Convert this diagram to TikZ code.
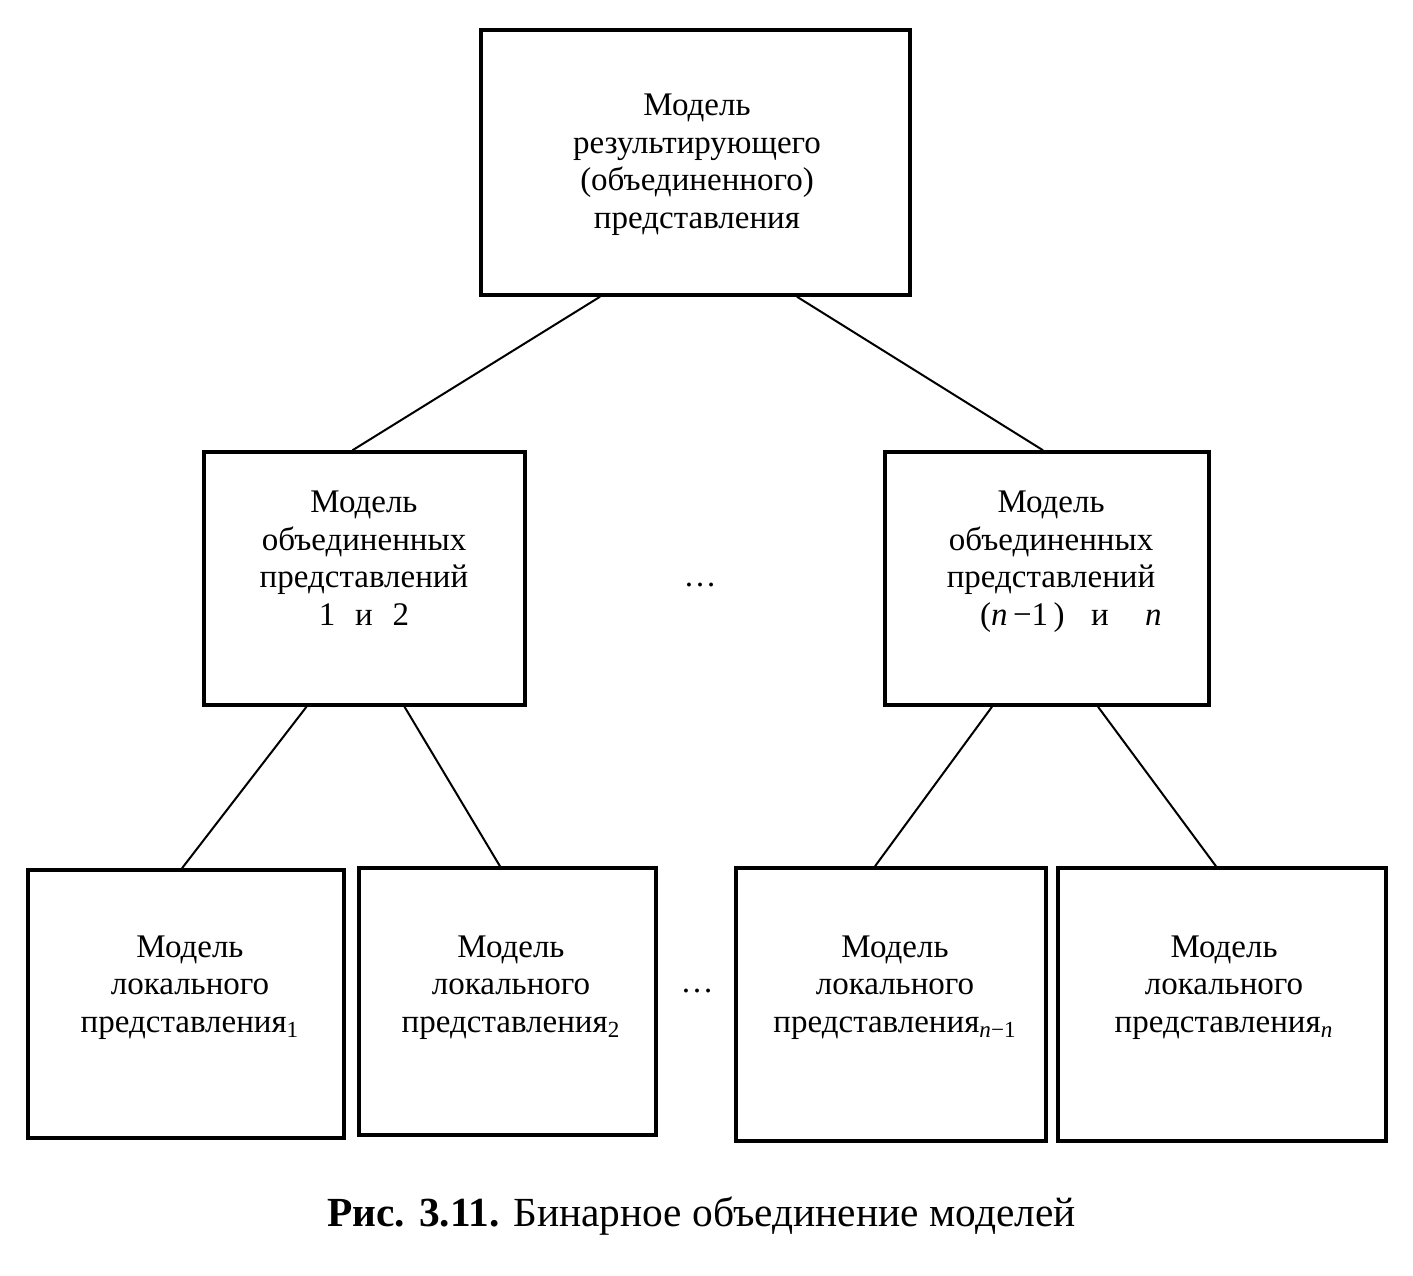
\documentclass[tikz,border=0pt]{standalone}
\usepackage{fontspec}
\setmainfont{Liberation Serif}
\usetikzlibrary{calc}
\begin{document}
\begin{tikzpicture}[x=0.5pt,y=-0.5pt,
  boxn/.style={draw, line width=1.75pt, inner sep=0pt},
  txt/.style={align=center, inner sep=0pt, anchor=base, font=\fontsize{16.5}{18.75}\selectfont},
  conn/.style={line width=1pt},
  capt/.style={anchor=base, inner sep=0pt, font=\fontsize{20.7}{24}\selectfont}]
\useasboundingbox (0,0) rectangle (1413,1275);
% boxes
\node[boxn, minimum width=214.5pt, minimum height=132.5pt] (top) at (695.5,162.5) {};
\node[boxn, minimum width=160.5pt, minimum height=126.5pt] (midL) at (364.5,578.5) {};
\node[boxn, minimum width=162pt, minimum height=126.5pt] (midR) at (1047,578.5) {};
\node[boxn, minimum width=158pt, minimum height=134pt] (b1) at (186,1004) {};
\node[boxn, minimum width=148.5pt, minimum height=133.5pt] (b2) at (507.5,1001.5) {};
\node[boxn, minimum width=155pt, minimum height=136.5pt] (b3) at (891,1004.5) {};
\node[boxn, minimum width=164pt, minimum height=136.5pt] (b4) at (1222,1004.5) {};
% texts (anchor=base is the baseline of the last line)
\node[txt] (tTop) at (697,228) {Модель\\результирующего\\(объединенного)\\представления};
\node[txt] (tMidL) at (364,625) {Модель\\объединенных\\представлений\\1\hspace{0.6em}и\hspace{0.6em}2};
\node[txt] (tMidR) at (1051,625) {Модель\\объединенных\\представлений\\\hspace{1.2em}(\textit{n}\,−1\,)\hspace{0.8em}и\hspace{1.1em}\textit{n}};
\node[txt] (tb1) at (190,1032) {Модель\\локального\\представления\textsubscript{1}};
\node[txt] (tb2) at (511,1032) {Модель\\локального\\представления\textsubscript{2}};
\node[txt] (tb3) at (895,1032) {Модель\\локального\\представления\textsubscript{\textit{n}−1}};
\node[txt] (tb4) at (1224,1032) {Модель\\локального\\представления\textsubscript{\textit{n}}};
% dots
\node[txt] (dots1) at (700,586) {…};
\node[txt] (dots2) at (697,992) {…};
% connectors
\draw[conn] ($(top.south)+(-95.5,0)$) -- ($(midL.north)+(-12,0)$);
\draw[conn] ($(top.south)+(101.5,0)$) -- ($(midR.north)+(-4,0)$);
\draw[conn] ($(midL.south)+(-58,0)$) -- ($(b1.north)+(-4,0)$);
\draw[conn] ($(midL.south)+(40,0)$) -- ($(b2.north)+(-7.5,0)$);
\draw[conn] ($(midR.south)+(-55,0)$) -- ($(b3.north)+(-16,0)$);
\draw[conn] ($(midR.south)+(51,0)$) -- ($(b4.north)+(-6,0)$);
% caption
\node[capt] (cap) at (701.5,1226) {\textbf{Рис. 3.11.} Бинарное объединение моделей};
\end{tikzpicture}
\end{document}
